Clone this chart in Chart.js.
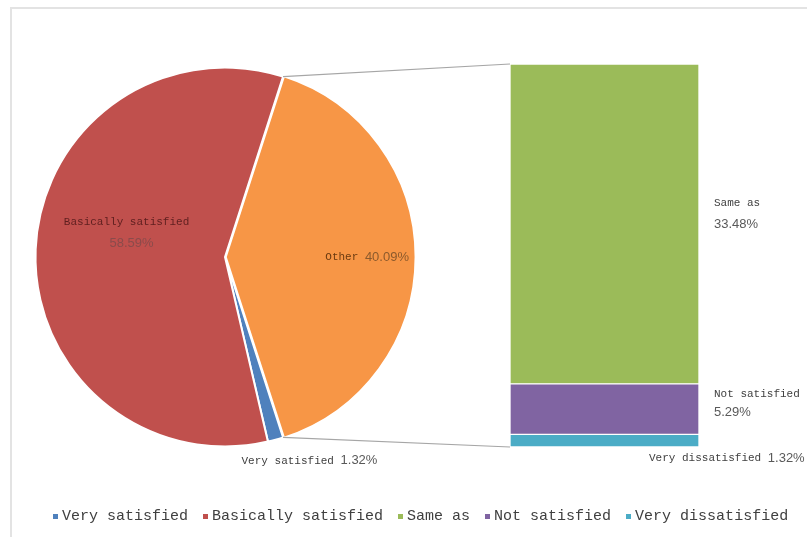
<!DOCTYPE html>
<html>
<head>
<meta charset="utf-8">
<script src="https://cdn.jsdelivr.net/npm/chart.js@4"></script>
<style>
    body { margin: 0; background: #fff; }
    #wrap { position: relative; width: 807px; height: 537px; overflow: hidden; background: #fff; }
    #frame { position: absolute; left: 10px; top: 7px; width: 820px; height: 540px;
             border-left: 2px solid #e3e3e3; border-top: 2px solid #e3e3e3; }
    canvas { position: absolute; left: 0; top: 0; }
    #legend { position: absolute; left: 53px; top: 508px; display: flex; white-space: nowrap;
              font-family: "Liberation Mono", monospace; font-size: 15px; color: #404040; }
    #legend span.item { margin-right: 15px; display: flex; align-items: center; }
    #legend i { display: inline-block; width: 5px; height: 5px; margin-right: 4px; }
</style>
</head>
<body>
<div id="wrap">
    <div id="frame"></div>
    <canvas id="pieChart" width="807" height="537"></canvas>
    <canvas id="barChart" width="807" height="537"></canvas>
    <div id="legend"></div>
</div>
<script>
    // pie: the two main answers plus the "Other" group that gets split out into the bar
    var pieLabels = ['Very satisfied', 'Basically satisfied', 'Other'];
    var pieValues = [1.32, 58.59, 40.09];
    var pieColors = ['#4f81bd', '#c0504d', '#f79646'];

    // bar: breakdown of "Other", listed bottom to top
    var barLabels = ['Very dissatisfied', 'Not satisfied', 'Same as'];
    var barValues = [1.32, 5.29, 33.48];
    var barColors = ['#4bacc6', '#8064a2', '#9bbb59'];

    var legendLabels = ['Very satisfied', 'Basically satisfied', 'Same as', 'Not satisfied', 'Very dissatisfied'];
    var legendColors = ['#4f81bd', '#c0504d', '#9bbb59', '#8064a2', '#4bacc6'];

    var otherTotal = barValues.reduce(function (a, b) { return a + b; }, 0);

    var monoFont = '"Liberation Mono", monospace';
    var numFont = '"Liberation Sans", sans-serif';

    // writes "name" + "value%" either on one line or two
    function drawLabel(ctx, x, y, name, value, opt) {
        ctx.save();
        ctx.textBaseline = 'middle';
        ctx.textAlign = 'left';
        ctx.font = '11px ' + monoFont;
        var nameW = ctx.measureText(name + ' ').width;
        ctx.font = '13px ' + numFont;
        var valTxt = value.toFixed(2) + '%';
        var valW = ctx.measureText(valTxt).width;
        if (opt.inline) {
            var left = opt.align === 'center' ? x - (nameW + valW) / 2 : x;
            ctx.font = '11px ' + monoFont;
            ctx.fillStyle = opt.nameColor;
            ctx.fillText(name, left, y);
            ctx.font = '13px ' + numFont;
            ctx.fillStyle = opt.valueColor;
            ctx.fillText(valTxt, left + nameW, y);
        } else {
            ctx.textAlign = opt.align;
            ctx.font = '11px ' + monoFont;
            ctx.fillStyle = opt.nameColor;
            ctx.fillText(name, x, y);
            ctx.font = '13px ' + numFont;
            ctx.fillStyle = opt.valueColor;
            ctx.fillText(valTxt, opt.align === 'center' ? x + (opt.valueDx || 0) : x, y + opt.gap);
        }
        ctx.restore();
    }

    var pieLabelPlugin = {
        id: 'pieLabels',
        afterDatasetsDraw: function (chart) {
            var ctx = chart.ctx;
            var arcs = chart.getDatasetMeta(0).data;
            arcs.forEach(function (arc, i) {
                var mid = (arc.startAngle + arc.endAngle) / 2;
                var r = arc.outerRadius;
                if (i === 0) {
                    // small slice, label sits below the pie
                    var ox = arc.x + r * Math.cos(mid);
                    var oy = arc.y + r * Math.sin(mid);
                    drawLabel(ctx, ox - 34, oy + 21, pieLabels[i], pieValues[i],
                        { inline: true, align: 'left', nameColor: '#404040', valueColor: '#595959' });
                } else if (i === 1) {
                    drawLabel(ctx, arc.x + r * 0.52 * Math.cos(mid), arc.y - 35, pieLabels[i], pieValues[i],
                        { inline: false, align: 'center', gap: 21, nameColor: '#5e1f1f', valueColor: '#8a4b4b', valueDx: 5 });
                } else {
                    drawLabel(ctx, arc.x + r * 0.75 * Math.cos(mid), arc.y, pieLabels[i], pieValues[i],
                        { inline: true, align: 'center', nameColor: '#6a3a10', valueColor: '#8c5a2c' });
                }
            });
        }
    };

    var pieChart = new Chart(document.getElementById('pieChart'), {
        type: 'pie',
        data: {
            labels: pieLabels,
            datasets: [{
                data: pieValues,
                backgroundColor: pieColors,
                borderColor: '#ffffff',
                borderWidth: 2,
                offset: [0, 0, 3]
            }]
        },
        options: {
            responsive: false,
            animation: false,
            // "Other" is centred on the right-hand side
            rotation: 90 + pieValues[2] / 100 * 180,
            layout: { padding: { left: 33, top: 65, right: 390, bottom: 88 } },
            plugins: { legend: { display: false }, tooltip: { enabled: false } }
        },
        plugins: [pieLabelPlugin]
    });

    var barLabelPlugin = {
        id: 'barLabels',
        afterDatasetsDraw: function (chart) {
            var ctx = chart.ctx;
            var els = barLabels.map(function (l, i) { return chart.getDatasetMeta(i).data[0]; });
            var top = els[2], bottom = els[0];

            // connector lines from the edges of the "Other" slice to the bar corners
            var arc = pieChart.getDatasetMeta(0).data[2];
            var R = arc.outerRadius;
            var upX = arc.x + R * Math.cos(arc.startAngle), upY = arc.y + R * Math.sin(arc.startAngle);
            var lowX = arc.x + R * Math.cos(arc.endAngle), lowY = arc.y + R * Math.sin(arc.endAngle);
            var barLeft = top.x - top.width / 2;
            ctx.save();
            ctx.strokeStyle = '#a6a6a6';
            ctx.lineWidth = 1.2;
            ctx.beginPath();
            ctx.moveTo(upX, upY);
            ctx.lineTo(barLeft, top.y);
            ctx.moveTo(lowX, lowY);
            ctx.lineTo(barLeft, bottom.base);
            ctx.stroke();
            ctx.restore();

            var right = top.x + top.width / 2;
            var g = els[2];
            drawLabel(ctx, right + 15, (g.y + g.base) / 2 - 21, barLabels[2], barValues[2],
                { inline: false, align: 'left', gap: 21, nameColor: '#404040', valueColor: '#595959' });
            var p = els[1];
            drawLabel(ctx, right + 15, (p.y + p.base) / 2 - 15, barLabels[1], barValues[1],
                { inline: false, align: 'left', gap: 18, nameColor: '#404040', valueColor: '#595959' });
            var c = els[0];
            drawLabel(ctx, barLeft + 139, c.base + 11, barLabels[0], barValues[0],
                { inline: true, align: 'left', nameColor: '#404040', valueColor: '#595959' });
        }
    };

    new Chart(document.getElementById('barChart'), {
        type: 'bar',
        data: {
            labels: ['Other'],
            datasets: barLabels.map(function (label, i) {
                return {
                    label: label,
                    data: [barValues[i]],
                    backgroundColor: barColors[i],
                    borderColor: '#ffffff',
                    borderWidth: 1,
                    borderSkipped: false,
                    barPercentage: 1,
                    categoryPercentage: 1
                };
            })
        },
        options: {
            responsive: false,
            animation: false,
            layout: { padding: { left: 510, top: 64, right: 108, bottom: 90 } },
            scales: {
                x: { stacked: true, display: false },
                y: { stacked: true, display: false, min: 0, max: otherTotal }
            },
            plugins: { legend: { display: false }, tooltip: { enabled: false } }
        },
        plugins: [barLabelPlugin]
    });

    // legend row along the bottom
    var legend = document.getElementById('legend');
    legendLabels.forEach(function (label, i) {
        var item = document.createElement('span');
        item.className = 'item';
        var box = document.createElement('i');
        box.style.background = legendColors[i];
        item.appendChild(box);
        item.appendChild(document.createTextNode(label));
        legend.appendChild(item);
    });
</script>
</body>
</html>
